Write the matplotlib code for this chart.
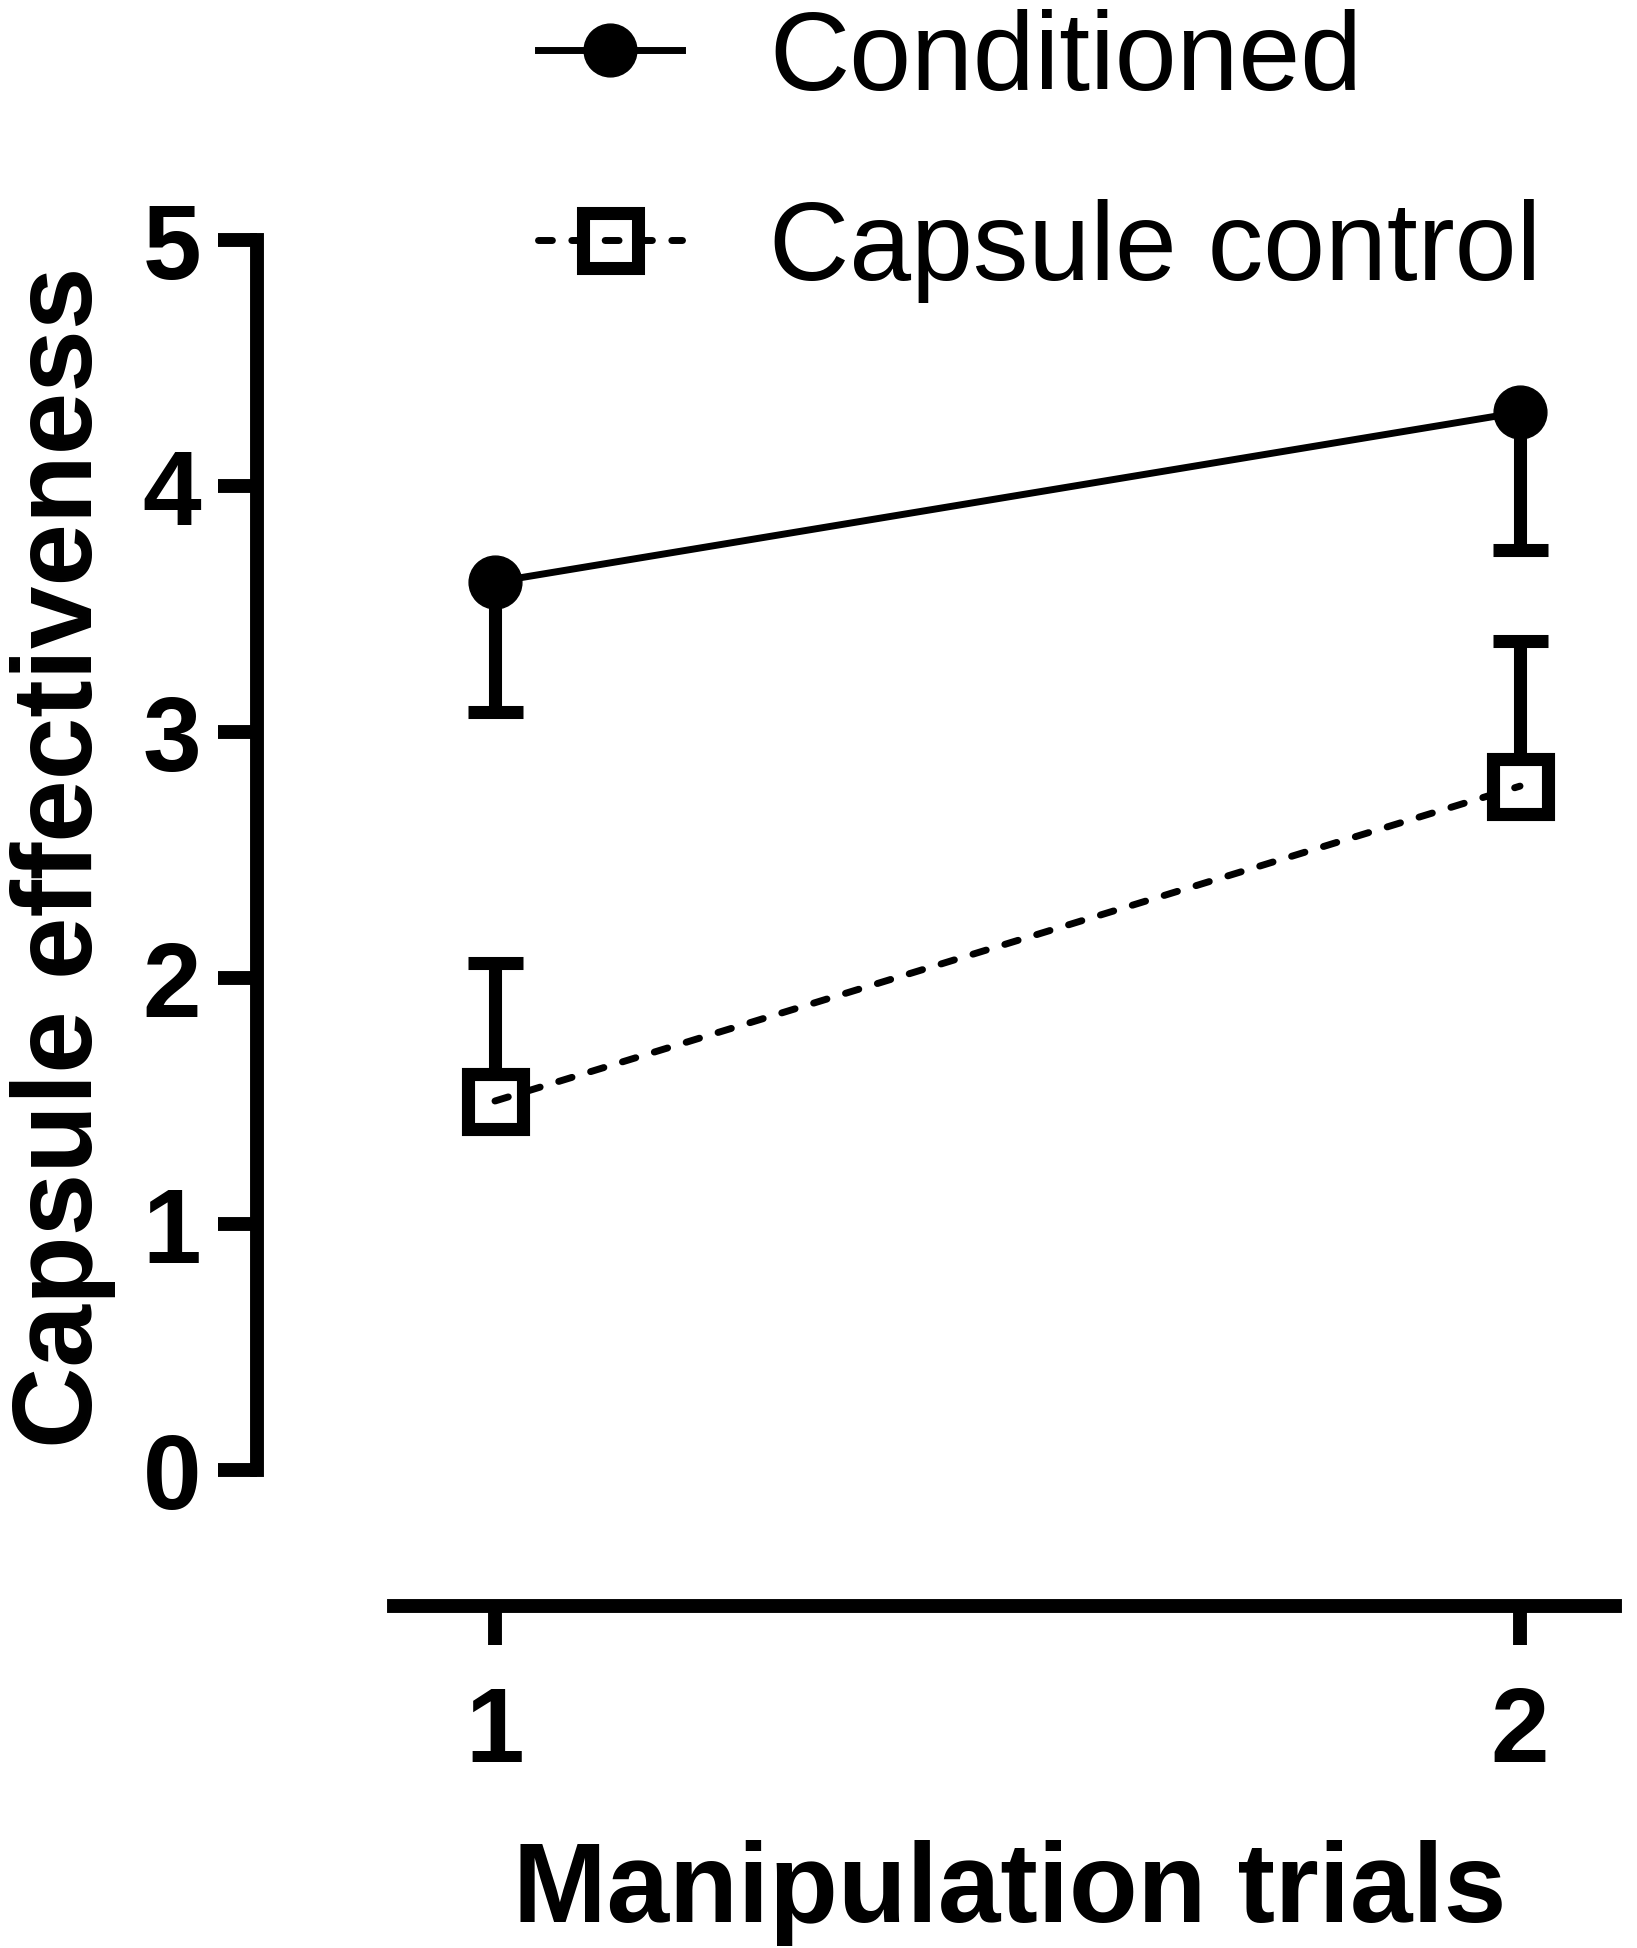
import matplotlib
matplotlib.use('Agg')
import matplotlib.pyplot as plt
import numpy as np

plt.rcParams['font.family'] = ['Liberation Sans', 'DejaVu Sans']

# Values
trials = [1, 2]
cond_mean = [3.61, 4.30]
cond_err = [0.53, 0.56]      # drawn below the mean only
ctrl_mean = [1.50, 2.78]
ctrl_err = [0.56, 0.59]      # drawn above the mean only
y_ticks = [0, 1, 2, 3, 4, 5]
x_labels = ['1', '2']

W, H = 1637, 1949
fig = plt.figure(figsize=(W / 100, H / 100), dpi=100)

# axes box in pixels: left spine at x=257, y=0 at 1471, y=5 at 241
left_px, right_px = 257, 1630
top_px, bottom_px = 241, 1471
ax = fig.add_axes([left_px / W, 1 - bottom_px / H,
                   (right_px - left_px) / W, (bottom_px - top_px) / H])

ax.set_xlim(0.7678, 2.1073)
ax.set_ylim(0, 5)

zeros = np.zeros(2)
cm = np.array(cond_mean)
ce = np.array(cond_err)
sm = np.array(ctrl_mean)
se = np.array(ctrl_err)

# error bars (one sided)
ax.errorbar(trials, cm, yerr=[ce, zeros], fmt='none', ecolor='black',
            elinewidth=9.4, capsize=0, zorder=2)
ax.errorbar(trials, sm, yerr=[zeros, se], fmt='none', ecolor='black',
            elinewidth=9.4, capsize=0, zorder=2)
ax.plot(trials, cm - ce, ls='none', marker='_', ms=39.6, mew=9.4,
        color='black', zorder=2)
ax.plot(trials, sm + se, ls='none', marker='_', ms=39.6, mew=9.4,
        color='black', zorder=2)

# white fill behind the open squares so the stems do not show through
ax.plot(trials, sm, ls='none', marker='s', ms=39.6, mfc='white',
        mec='black', mew=9.4, zorder=3)

l1, = ax.plot(trials, cm, color='black', lw=5, marker='o', ms=38,
              mfc='black', mec='black', mew=1, zorder=4, label='Conditioned')
l2, = ax.plot(trials, sm, color='black', lw=5, ls=(0, (2.0, 2.8)),
              dash_capstyle='round', marker='s', ms=39.6, mfc='none',
              mec='black', mew=9.4, zorder=4, label='Capsule control')

# spines
for s in ['top', 'right']:
    ax.spines[s].set_visible(False)
ax.spines['left'].set_linewidth(10)
ax.spines['bottom'].set_linewidth(10)
ax.spines['left'].set_bounds(0, 5)
ax.spines['bottom'].set_position(('outward', 136 * 0.72))
ax.spines['bottom'].set_bounds(0.9015, 2.0927)

ax.set_yticks(y_ticks)
ax.set_yticklabels([str(t) for t in y_ticks])
ax.set_xticks(trials)
ax.set_xticklabels(x_labels)
ax.tick_params(axis='y', length=28, width=10, pad=12, labelsize=76)
ax.tick_params(axis='x', length=28, width=10, pad=28, labelsize=76)
for lab in ax.get_xticklabels() + ax.get_yticklabels():
    lab.set_fontweight('bold')

fig.text(1010 / W, 1 - 1922 / H, 'Manipulation trials', ha='center',
         va='baseline', fontsize=81, fontweight='bold')
fig.text(92 / W, 1 - 857 / H, 'Capsule effectiveness', ha='center',
         va='baseline', rotation=90, rotation_mode='anchor',
         fontsize=81, fontweight='bold')

leg = fig.legend(handles=[l1, l2], loc='upper left',
                 bbox_to_anchor=(538 / W, 1 - 9 / H),
                 bbox_transform=fig.transFigure, frameon=False,
                 fontsize=80, handlelength=1.3, handletextpad=0.78,
                 labelspacing=0.77, borderpad=0, borderaxespad=0,
                 numpoints=1)

fig.savefig('out.png', dpi=100)
